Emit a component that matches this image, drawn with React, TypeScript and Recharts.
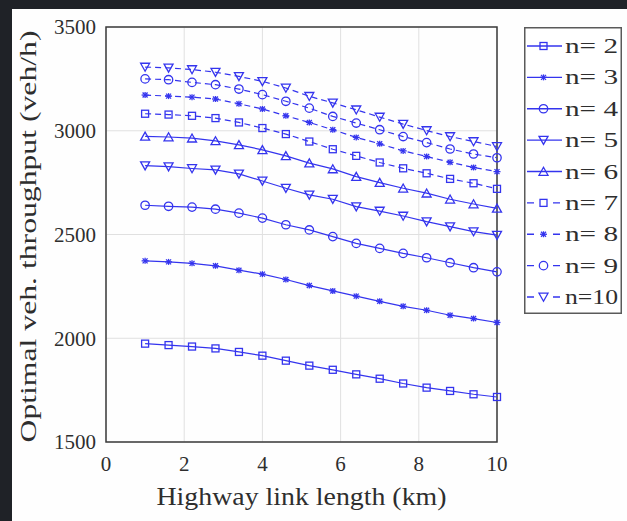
import React from 'react';
import { LineChart, Line, XAxis, YAxis, CartesianGrid, Legend, ReferenceArea, Label } from 'recharts';

const linkLength = [1, 1.6, 2.2, 2.8, 3.4, 4, 4.6, 5.2, 5.8, 6.4, 7, 7.6, 8.2, 8.8, 9.4, 10];
const n2 = [1974, 1967, 1960, 1951, 1934, 1916, 1892, 1868, 1848, 1826, 1805, 1782, 1762, 1746, 1730, 1717];
const n3 = [2373, 2368, 2361, 2349, 2328, 2309, 2283, 2254, 2228, 2203, 2178, 2154, 2135, 2111, 2095, 2076];
const n4 = [2641, 2636, 2632, 2622, 2603, 2579, 2547, 2522, 2490, 2457, 2433, 2409, 2388, 2364, 2340, 2320];
const n5 = [2832, 2827, 2818, 2811, 2792, 2758, 2723, 2691, 2670, 2634, 2613, 2589, 2562, 2538, 2514, 2497];
const n6 = [2973, 2970, 2964, 2951, 2932, 2908, 2879, 2844, 2816, 2779, 2750, 2723, 2699, 2670, 2647, 2626];
const n7 = [3082, 3078, 3072, 3061, 3040, 3013, 2984, 2948, 2911, 2879, 2847, 2819, 2795, 2768, 2747, 2720];
const n8 = [3172, 3167, 3162, 3153, 3130, 3105, 3072, 3040, 3005, 2968, 2937, 2903, 2876, 2848, 2823, 2803];
const n9 = [3250, 3246, 3233, 3222, 3201, 3174, 3142, 3109, 3069, 3037, 3005, 2972, 2943, 2912, 2888, 2870];
const n10 = [3307, 3303, 3295, 3282, 3262, 3238, 3206, 3166, 3134, 3101, 3066, 3032, 3001, 2972, 2948, 2924];

const seriesNames = ['n= 2', 'n= 3', 'n= 4', 'n= 5', 'n= 6', 'n= 7', 'n= 8', 'n= 9', 'n=10'];
const seriesValues = [n2, n3, n4, n5, n6, n7, n8, n9, n10];
const seriesShapes = ['square', 'star', 'circle', 'down', 'up', 'square', 'star', 'circle', 'down'];
const seriesDashed = [false, false, false, false, false, true, true, true, true];

const xTicks = [0, 2, 4, 6, 8, 10];
const yTicks = [1500, 2000, 2500, 3000, 3500];

const BLUE = '#3434ee';
const TEXT = '#2e2e2e';
const FONT = '"Liberation Serif", "Times New Roman", serif';

const data = linkLength.map((x, i) => {
  const row: Record<string, number> = { x };
  seriesValues.forEach((vals, s) => {
    row[`s${s}`] = vals[i];
  });
  return row;
});

function Marker({ cx, cy, shape }: { cx: number; cy: number; shape: string }) {
  const common = { fill: 'none', stroke: BLUE, strokeWidth: 1.3 };
  switch (shape) {
    case 'square':
      return <rect x={cx - 3.5} y={cy - 3.5} width={7} height={7} {...common} />;
    case 'circle':
      return <circle cx={cx} cy={cy} r={4.2} {...common} />;
    case 'down':
      return <path d={`M${cx - 4.5},${cy - 3.8} L${cx + 4.5},${cy - 3.8} L${cx},${cy + 4.2} Z`} {...common} />;
    case 'up':
      return <path d={`M${cx - 4.5},${cy + 3.8} L${cx + 4.5},${cy + 3.8} L${cx},${cy - 4.2} Z`} {...common} />;
    case 'star':
    default:
      return (
        <g {...common}>
          <line x1={cx - 3.5} y1={cy} x2={cx + 3.5} y2={cy} />
          <line x1={cx - 2.5} y1={cy - 2.5} x2={cx + 2.5} y2={cy + 2.5} />
          <line x1={cx - 2.5} y1={cy + 2.5} x2={cx + 2.5} y2={cy - 2.5} />
          <line x1={cx} y1={cy - 3} x2={cx} y2={cy + 3} />
        </g>
      );
  }
}

const renderLegend = (props: any) => {
  const payload = props.payload || [];
  return (
    <svg width={98} height={287} style={{ display: 'block' }}>
      <rect x={0.75} y={0.75} width={96.5} height={285.5} fill="#ffffff" stroke="#5a5a5a" strokeWidth={1.5} />
      {payload.map((entry: any, i: number) => {
        const idx = Number(String(entry.dataKey).slice(1));
        const y = 19 + i * 31.375;
        return (
          <g key={`lg-${i}`}>
            {seriesDashed[idx] ? (
              <line x1={3} y1={y} x2={36} y2={y} stroke={BLUE} strokeWidth={1.3} strokeDasharray="7 19 7" />
            ) : (
              <line x1={3} y1={y} x2={38} y2={y} stroke={BLUE} strokeWidth={1.3} />
            )}
            <Marker cx={19.5} cy={y} shape={seriesShapes[idx]} />
            <text
              x={41}
              y={y + 7}
              fontSize={22}
              fontFamily={FONT}
              fill={TEXT}
              textLength={53}
              lengthAdjust="spacingAndGlyphs"
              style={{ whiteSpace: 'pre' }}
            >
              {seriesNames[idx]}
            </text>
          </g>
        );
      })}
    </svg>
  );
};

export default function App() {
  return (
    <div style={{ position: 'absolute', left: 0, top: 0, width: 627, height: 521, background: '#1f2227', overflow: 'hidden' }}>
      <div style={{ position: 'absolute', left: 12, top: 9, right: 0, bottom: 0, background: '#fefefe' }} />
      <div style={{ position: 'absolute', left: 0, top: 0 }}>
        <LineChart width={627} height={521} data={data} margin={{ top: 27, right: 130, bottom: 39, left: 46 }}>
          <CartesianGrid stroke="#e0e0e0" strokeWidth={1} />
          <ReferenceArea x1={0} x2={10} y1={1500} y2={3500} fill="none" stroke="#3c3c3c" strokeWidth={1.5} ifOverflow="extendDomain" />
          <XAxis
            dataKey="x"
            type="number"
            domain={[0, 10]}
            ticks={xTicks}
            axisLine={false}
            tickLine={false}
            tickSize={6}
            tickMargin={8}
            height={40}
            tick={{ fill: TEXT, fontSize: 21, fontFamily: FONT }}
          >
            <Label
              content={(p: any) => {
                const vb = p.viewBox || { x: 106, y: 442, width: 391 };
                return (
                  <text
                    x={vb.x + vb.width / 2}
                    y={vb.y + 63}
                    textAnchor="middle"
                    fontSize={25}
                    fontFamily={FONT}
                    fill={TEXT}
                    textLength={290}
                    lengthAdjust="spacingAndGlyphs"
                  >
                    Highway link length (km)
                  </text>
                );
              }}
            />
          </XAxis>
          <YAxis
            type="number"
            domain={[1500, 3500]}
            ticks={yTicks}
            axisLine={false}
            tickLine={false}
            tickSize={6}
            tickMargin={4}
            width={60}
            tick={{ fill: TEXT, fontSize: 21, fontFamily: FONT }}
          >
            <Label
              content={(p: any) => {
                const vb = p.viewBox || { x: 46, y: 27, width: 60, height: 415 };
                const cx = vb.x - 18;
                const cy = vb.y + vb.height / 2 + 2;
                return (
                  <text
                    x={cx}
                    y={cy}
                    textAnchor="middle"
                    dominantBaseline="central"
                    transform={`rotate(-90, ${cx}, ${cy})`}
                    fontSize={24}
                    fontFamily={FONT}
                    fill={TEXT}
                    textLength={412}
                    lengthAdjust="spacingAndGlyphs"
                  >
                    Optimal veh. throughput (veh/h)
                  </text>
                );
              }}
            />
          </YAxis>
          {seriesValues.map((_, s) => (
            <Line
              key={`s${s}`}
              dataKey={`s${s}`}
              name={seriesNames[s]}
              stroke={BLUE}
              strokeWidth={1.2}
              strokeDasharray={seriesDashed[s] ? '6 4' : undefined}
              isAnimationActive={false}
              dot={(p: any) => <Marker key={`d${s}-${p.index}`} cx={p.cx} cy={p.cy} shape={seriesShapes[s]} />}
              activeDot={false}
            />
          ))}
          <Legend
            layout="horizontal"
            verticalAlign="middle"
            align="center"
            width={98}
            height={287}
            wrapperStyle={{ left: 524, top: 27, width: 98, height: 287, right: 'auto', bottom: 'auto' }}
            content={renderLegend}
          />
        </LineChart>
      </div>
    </div>
  );
}
